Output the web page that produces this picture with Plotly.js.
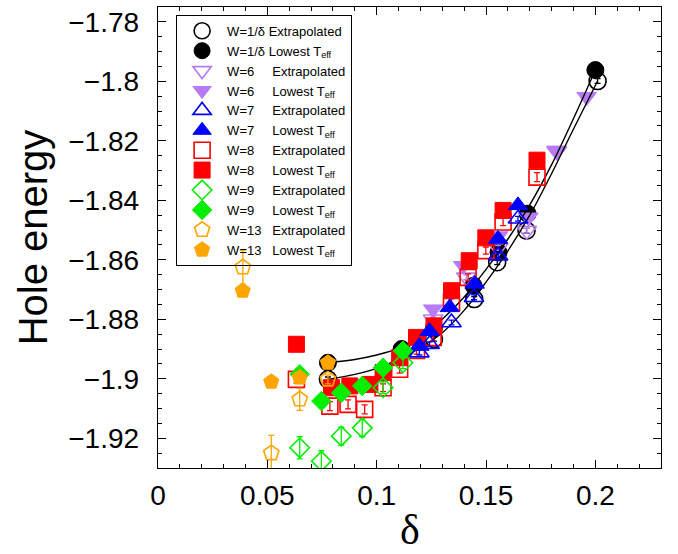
<!DOCTYPE html>
<html><head><meta charset="utf-8">
<script src="https://cdn.plot.ly/plotly-3.0.1.min.js"></script>
<style>html,body{margin:0;padding:0;background:#fff}</style>
</head><body><div id="chart" style="width:678px;height:554px"></div>
<script>
// ---- fit curves ----
const fitUpperX = [0.0777, 0.09, 0.10, 0.11, 0.12, 0.13, 0.14, 0.15, 0.16, 0.17, 0.18, 0.19, 0.20];
const fitUpperY = [-1.8946, -1.8935, -1.8920, -1.8898, -1.8860, -1.8800, -1.8725, -1.8632, -1.8530, -1.8415, -1.8280, -1.8125, -1.7962];
const fitLowerX = [0.0777, 0.09, 0.10, 0.11, 0.12, 0.13, 0.14, 0.15, 0.16, 0.17, 0.18, 0.19, 0.201];
const fitLowerY = [-1.9002, -1.8985, -1.8965, -1.8935, -1.8895, -1.8845, -1.8770, -1.8675, -1.8570, -1.8450, -1.8310, -1.8160, -1.7999];

// ---- W = 1/delta ----
const invExtX = [0.0777, 0.1114, 0.1262, 0.1446, 0.1551, 0.1685, 0.2010];
const invExtY = [-1.9002, -1.8910, -1.8866, -1.8732, -1.8608, -1.8502, -1.7999];
const invExtE = [0.0008, 0.0008, 0.0008, 0.0008, 0.0008, 0.0008, 0.0008];
const invLowX = [0.0777, 0.1114, 0.1262, 0.1443, 0.1557, 0.1690, 0.2000];
const invLowY = [-1.8946, -1.8900, -1.8828, -1.8687, -1.8575, -1.8445, -1.7962];

// ---- W = 6 ----
const w6ExtX = [0.1258, 0.1410, 0.1555, 0.1686, 0.1823];
const w6ExtY = [-1.8800, -1.8659, -1.8560, -1.8502, -1.8235];
const w6ExtE = [0.0008, 0.0008, 0.0008, 0.0008, 0.0008];
const w6LowX = [0.1258, 0.1395, 0.1555, 0.1694, 0.1823, 0.1960];
const w6LowY = [-1.8766, -1.8620, -1.8520, -1.8457, -1.8232, -1.8052];

// ---- W = 7 ----
const w7ExtX = [0.1195, 0.1242, 0.1342, 0.1445, 0.1555, 0.1646];
const w7ExtY = [-1.8912, -1.8884, -1.8811, -1.8726, -1.8586, -1.8462];
const w7ExtE = [0.0008, 0.0008, 0.0008, 0.0008, 0.0008, 0.0008];
const w7LowX = [0.1195, 0.1242, 0.1334, 0.1448, 0.1555, 0.1646];
const w7LowY = [-1.8890, -1.8840, -1.8760, -1.8681, -1.8530, -1.8417];

// ---- W = 8 ----
const w8ExtX = [0.0633, 0.0786, 0.0869, 0.0945, 0.1029, 0.1105, 0.1182, 0.1258, 0.1342, 0.1418, 0.1499, 0.1578, 0.1733];
const w8ExtY = [-1.9002, -1.9092, -1.9086, -1.9103, -1.9030, -1.8968, -1.8905, -1.8861, -1.8743, -1.8659, -1.8569, -1.8473, -1.8322];
const w8ExtE = [0.0012, 0.0015, 0.0015, 0.0015, 0.0013, 0.0013, 0.0012, 0.0012, 0.0012, 0.0012, 0.0012, 0.0012, 0.0015];
const w8LowX = [0.0633, 0.0793, 0.0877, 0.0969, 0.1029, 0.1105, 0.1182, 0.1262, 0.1342, 0.1423, 0.1499, 0.1578, 0.1733];
const w8LowY = [-1.8884, -1.9030, -1.9024, -1.9019, -1.8979, -1.8929, -1.8861, -1.8822, -1.8704, -1.8603, -1.8526, -1.8434, -1.8265];

// ---- W = 9 ----
const w9ExtX = [0.0648, 0.0747, 0.0838, 0.0934, 0.1029, 0.1120];
const w9ExtY = [-1.9232, -1.9277, -1.9193, -1.9165, -1.9030, -1.8946];
const w9ExtE = [0.0037, 0.0035, 0.0030, 0.0030, 0.0020, 0.0020];
const w9LowX = [0.0648, 0.0747, 0.0838, 0.0934, 0.1029, 0.1120];
const w9LowY = [-1.8985, -1.9075, -1.9047, -1.9024, -1.8963, -1.8906];

// ---- W = 13 ----
const w13ExtX = [0.0388, 0.0518, 0.0648, 0.0777];
const w13ExtY = [-1.8625, -1.9250, -1.9069, -1.9002];
const w13ExtE = [0.0057, 0.0060, 0.0037, 0.0015];
const w13LowX = [0.0387, 0.0518, 0.0648, 0.0777];
const w13LowY = [-1.8704, -1.9010, -1.8996, -1.8946];

const NB = '\u00a0';
const labels = [
  'W=1/δ Extrapolated', 'W=1/δ Lowest T<sub>eff</sub>',
  'W=6' + NB.repeat(5) + 'Extrapolated', 'W=6' + NB.repeat(5) + 'Lowest T<sub>eff</sub>',
  'W=7' + NB.repeat(5) + 'Extrapolated', 'W=7' + NB.repeat(5) + 'Lowest T<sub>eff</sub>',
  'W=8' + NB.repeat(5) + 'Extrapolated', 'W=8' + NB.repeat(5) + 'Lowest T<sub>eff</sub>',
  'W=9' + NB.repeat(5) + 'Extrapolated', 'W=9' + NB.repeat(5) + 'Lowest T<sub>eff</sub>',
  'W=13' + NB.repeat(3) + 'Extrapolated', 'W=13' + NB.repeat(3) + 'Lowest T<sub>eff</sub>'
];

const BLACK = '#000000', PURPLE = '#b77cf5', BLUE = '#0000ff', RED = '#ff0000', GREEN = '#00ee00', ORANGE = '#ffa500';

function openTrace(x, y, e, color, symbol, size, name, rank) {
  return {x: x, y: y, type: 'scatter', mode: 'markers', name: name, legendrank: rank,
    marker: {symbol: symbol, size: size, color: color, line: {color: color, width: 1.6}},
    error_y: {type: 'data', array: e, visible: true, color: color, thickness: 1.3, width: 3}};
}
function filledTrace(x, y, color, symbol, size, name, rank) {
  return {x: x, y: y, type: 'scatter', mode: 'markers', name: name, legendrank: rank,
    marker: {symbol: symbol, size: size, color: color, line: {color: color, width: 1}}};
}

const traces = [
  openTrace(invExtX, invExtY, invExtE, BLACK, 'circle-open', 17, labels[0], 1),
  filledTrace(invLowX, invLowY, BLACK, 'circle', 17, labels[1], 2),
  openTrace(w6ExtX, w6ExtY, w6ExtE, PURPLE, 'triangle-down-open', 17, labels[2], 3),
  filledTrace(w6LowX, w6LowY, PURPLE, 'triangle-down', 17, labels[3], 4),
  {x: fitUpperX, y: fitUpperY, type: 'scatter', mode: 'lines', line: {color: BLACK, width: 1.4, shape: 'spline'}, showlegend: false, hoverinfo: 'skip'},
  {x: fitLowerX, y: fitLowerY, type: 'scatter', mode: 'lines', line: {color: BLACK, width: 1.4, shape: 'spline'}, showlegend: false, hoverinfo: 'skip'},
  openTrace(w8ExtX, w8ExtY, w8ExtE, RED, 'square-open', 16, labels[6], 7),
  filledTrace(w8LowX, w8LowY, RED, 'square', 16, labels[7], 8),
  openTrace(w7ExtX, w7ExtY, w7ExtE, BLUE, 'triangle-up-open', 17, labels[4], 5),
  filledTrace(w7LowX, w7LowY, BLUE, 'triangle-up', 17, labels[5], 6),
  openTrace(w9ExtX, w9ExtY, w9ExtE, GREEN, 'diamond-open', 15, labels[8], 9),
  filledTrace(w9LowX, w9LowY, GREEN, 'diamond', 15, labels[9], 10),
  openTrace(w13ExtX, w13ExtY, w13ExtE, ORANGE, 'pentagon-open', 16, labels[10], 11),
  filledTrace(w13LowX, w13LowY, ORANGE, 'pentagon', 16, labels[11], 12)
];

const axisCommon = {
  showline: true, linecolor: '#000', linewidth: 1.3, mirror: 'allticks',
  ticks: 'inside', ticklen: 8, tickwidth: 1, tickcolor: '#000',
  showgrid: false, zeroline: false,
  tickfont: {family: 'Liberation Sans, Arial, sans-serif', size: 28, color: '#000'}
};

const layout = {
  width: 678, height: 554,
  margin: {l: 158, r: 17, t: 7, b: 86},
  paper_bgcolor: '#fff', plot_bgcolor: '#fff',
  showlegend: true,
  xaxis: Object.assign({}, axisCommon, {
    range: [0, 0.23], dtick: 0.05, tick0: 0, ticklabelstandoff: 2,
    minor: {dtick: 0.01, ticks: 'inside', ticklen: 4, tickcolor: '#000', showgrid: false}
  }),
  yaxis: Object.assign({}, axisCommon, {
    range: [-1.93, -1.775], dtick: 0.02, tick0: -1.78, ticklabelstandoff: 12,
    minor: {dtick: 0.005, ticks: 'inside', ticklen: 4, tickcolor: '#000', showgrid: false},
    title: {text: 'Hole energy', font: {family: 'Liberation Sans, Arial, sans-serif', size: 40, color: '#000'}, standoff: 8}
  }),
  annotations: [{
    text: 'δ', xref: 'paper', yref: 'paper', x: 0.5, y: -0.1866,
    xanchor: 'center', yanchor: 'bottom', showarrow: false, borderpad: 0,
    font: {family: 'Liberation Serif, DejaVu Serif, serif', size: 42, color: '#000'}
  }],
  legend: {
    x: 0.036, y: 0.983, xanchor: 'left', yanchor: 'top',
    bgcolor: 'rgba(255,255,255,0)', bordercolor: '#000', borderwidth: 1,
    font: {family: 'Liberation Sans, Arial, sans-serif', size: 13, color: '#000'},
    itemwidth: 40, tracegroupgap: 0
  }
};

Plotly.newPlot('chart', traces, layout, {displayModeBar: false, staticPlot: true});
</script>
</body></html>
